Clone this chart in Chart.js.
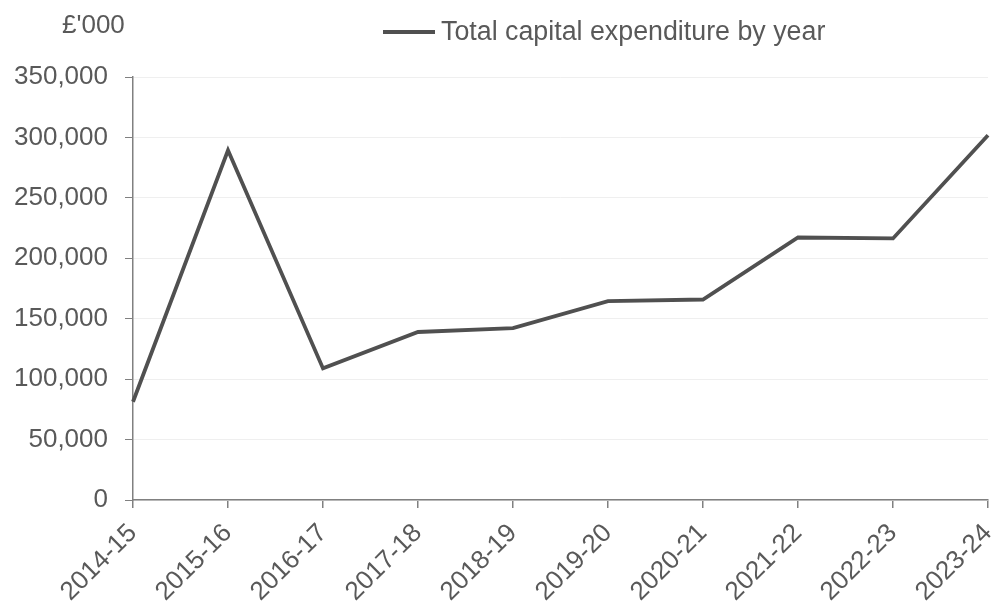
<!DOCTYPE html>
<html>
<head>
<meta charset="utf-8">
<script src="https://cdn.jsdelivr.net/npm/chart.js@4.4.1/dist/chart.umd.min.js"></script>
<style>
  html, body { margin: 0; padding: 0; background: #fff; }
  #wrap { width: 993px; height: 602px; }
</style>
</head>
<body>
<div id="wrap"><canvas id="myChart" width="993" height="602"></canvas></div>
<script>
        // data
        const years = ['2014-15', '2015-16', '2016-17', '2017-18', '2018-19', '2019-20', '2020-21', '2021-22', '2022-23', '2023-24'];
        const capitalSpend = [81300, 289400, 108900, 139000, 142200, 164500, 165900, 217200, 216400, 301800];
        const yTicks = [0, 50000, 100000, 150000, 200000, 250000, 300000, 350000];
        const unitLabel = "£'000";
        const seriesLabel = 'Total capital expenditure by year';

        const textColor = '#595959';
        const lineColor = '#505050';
        const axisColor = '#808080';
        const fontFamily = '"Liberation Sans", Arial, sans-serif';

        Chart.defaults.font.family = fontFamily;
        Chart.defaults.font.size = 26;
        Chart.defaults.color = textColor;

        // unit label top-left and the legend, drawn by hand so they sit where the picture has them
        const extras = {
            id: 'extras',
            afterDraw(chart) {
                const c = chart.ctx;
                c.save();
                c.font = '26px ' + fontFamily;
                c.fillStyle = textColor;
                c.textBaseline = 'middle';
                c.textAlign = 'left';
                c.fillText(unitLabel, 62, 26);

                const ds = chart.data.datasets[0];
                c.strokeStyle = ds.borderColor;
                c.lineWidth = ds.borderWidth;
                c.beginPath();
                c.moveTo(383, 32);
                c.lineTo(435, 32);
                c.stroke();
                c.font = '26.8px ' + fontFamily;
                c.fillText(ds.label, 441, 33);
                c.restore();
            }
        };

        const ctx = document.getElementById('myChart').getContext('2d');
        const myChart = new Chart(ctx, {
            type: 'line',
            data: {
                labels: years,
                datasets: [{
                    label: seriesLabel,
                    data: capitalSpend,
                    borderColor: lineColor,
                    borderWidth: 3.8,
                    pointRadius: 0,
                    tension: 0,
                    fill: false
                }]
            },
            options: {
                responsive: false,
                animation: false,
                layout: { padding: { top: 77, right: 5, left: 0, bottom: 0 } },
                plugins: {
                    legend: { display: false },
                    tooltip: { enabled: false }
                },
                scales: {
                    x: {
                        offset: false,
                        grid: { drawOnChartArea: false, drawTicks: true, tickLength: 8, tickColor: axisColor, lineWidth: 1.5 },
                        border: { color: axisColor, width: 1.5 },
                        ticks: { minRotation: 45, maxRotation: 45, padding: 10, autoSkip: false, color: textColor },
                        afterFit(scale) {
                            scale.height = 102;
                            scale.paddingRight = 0;
                            scale.paddingLeft = 0;
                        }
                    },
                    y: {
                        min: 0,
                        max: 350000,
                        afterBuildTicks(scale) { scale.ticks = yTicks.map(v => ({ value: v })); },
                        grid: { color: '#efefef', lineWidth: 1, tickLength: 8, tickColor: axisColor },
                        border: { color: axisColor, width: 1.5 },
                        ticks: {
                            padding: 17,
                            color: textColor,
                            callback: v => v.toLocaleString('en-GB')
                        },
                        afterFit(scale) { scale.width = 133; }
                    }
                }
            },
            plugins: [extras]
        });
</script>
</body>
</html>
